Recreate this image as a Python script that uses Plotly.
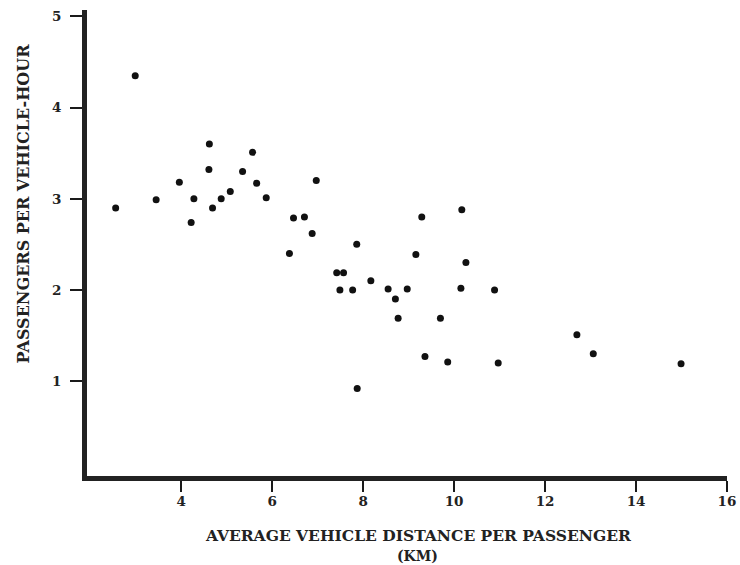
import plotly.graph_objects as go

distance_km = [2.56, 2.99, 3.45, 3.96, 4.22, 4.28, 4.62, 4.61, 4.69, 4.88, 5.08, 5.35,
               5.57, 5.66, 5.87, 6.38, 6.47, 6.71, 6.88, 6.97, 7.42, 7.57, 7.49, 7.77,
               7.86, 8.17, 8.55, 8.71, 8.77, 8.97, 7.87, 9.16, 9.29, 9.36, 9.70, 9.86,
               10.15, 10.17, 10.26, 10.89, 10.97, 12.70, 13.06, 14.99]
passengers_per_hour = [2.90, 4.35, 2.99, 3.18, 2.74, 3.00, 3.60, 3.32, 2.90, 3.00, 3.08, 3.30,
                       3.51, 3.17, 3.01, 2.40, 2.79, 2.80, 2.62, 3.20, 2.19, 2.19, 2.00, 2.00,
                       2.50, 2.10, 2.01, 1.90, 1.69, 2.01, 0.92, 2.39, 2.80, 1.27, 1.69, 1.21,
                       2.02, 2.88, 2.30, 2.00, 1.20, 1.51, 1.30, 1.19]
x_ticks = [4, 6, 8, 10, 12, 14, 16]
y_ticks = [1, 2, 3, 4, 5]
x_title_line1 = "AVERAGE VEHICLE DISTANCE PER PASSENGER"
x_title_line2 = "(KM)"
y_title = "PASSENGERS PER VEHICLE-HOUR"

serif = "DejaVu Serif"

fig = go.Figure()
fig.add_trace(go.Scatter(
    x=distance_km, y=passengers_per_hour, mode="markers",
    marker=dict(color="#111111", size=7),
    showlegend=False, hoverinfo="skip", cliponaxis=False,
))

tick_style = dict(ticks="outside", tickwidth=2, tickcolor="#1a1a1a")

fig.update_layout(
    width=740, height=565,
    margin=dict(l=87, r=13, t=10, b=89, autoexpand=False),
    paper_bgcolor="white", plot_bgcolor="white",
    font=dict(family=serif, color="#222222"),
    xaxis=dict(
        range=[1.93, 16], tickvals=x_ticks, ticktext=[f"<b>{v}</b>" for v in x_ticks],
        showgrid=False, zeroline=False, automargin=False,
        showline=True, linewidth=5, linecolor="#222222",
        ticklen=11, ticklabelstandoff=-2, **tick_style,
        tickfont=dict(family=serif, size=13.5, color="#222222"),
    ),
    yaxis=dict(
        range=[-0.04, 5.07], tickvals=y_ticks, ticktext=[f"<b>{v}</b>" for v in y_ticks],
        showgrid=False, zeroline=False, automargin=False,
        showline=True, linewidth=5, linecolor="#222222",
        ticklen=12, ticklabelstandoff=6, **tick_style,
        tickfont=dict(family=serif, size=13.5, color="#222222"),
    ),
    annotations=[
        dict(text=f"<b>{x_title_line1}</b>", xref="paper", yref="paper", x=0.517, y=-0.127,
             xanchor="center", yanchor="middle", showarrow=False,
             font=dict(family=serif, size=15.5, color="#222222")),
        dict(text=f"<b>{x_title_line2}</b>", xref="paper", yref="paper", x=0.517, y=-0.172,
             xanchor="center", yanchor="middle", showarrow=False,
             font=dict(family=serif, size=14, color="#222222")),
        dict(text=f"<b>{y_title}</b>", xref="paper", yref="paper", x=-0.1, y=0.585,
             xanchor="center", yanchor="middle", showarrow=False, textangle=-90,
             font=dict(family=serif, size=16, color="#222222")),
    ],
)

fig.write_html("out.html")
